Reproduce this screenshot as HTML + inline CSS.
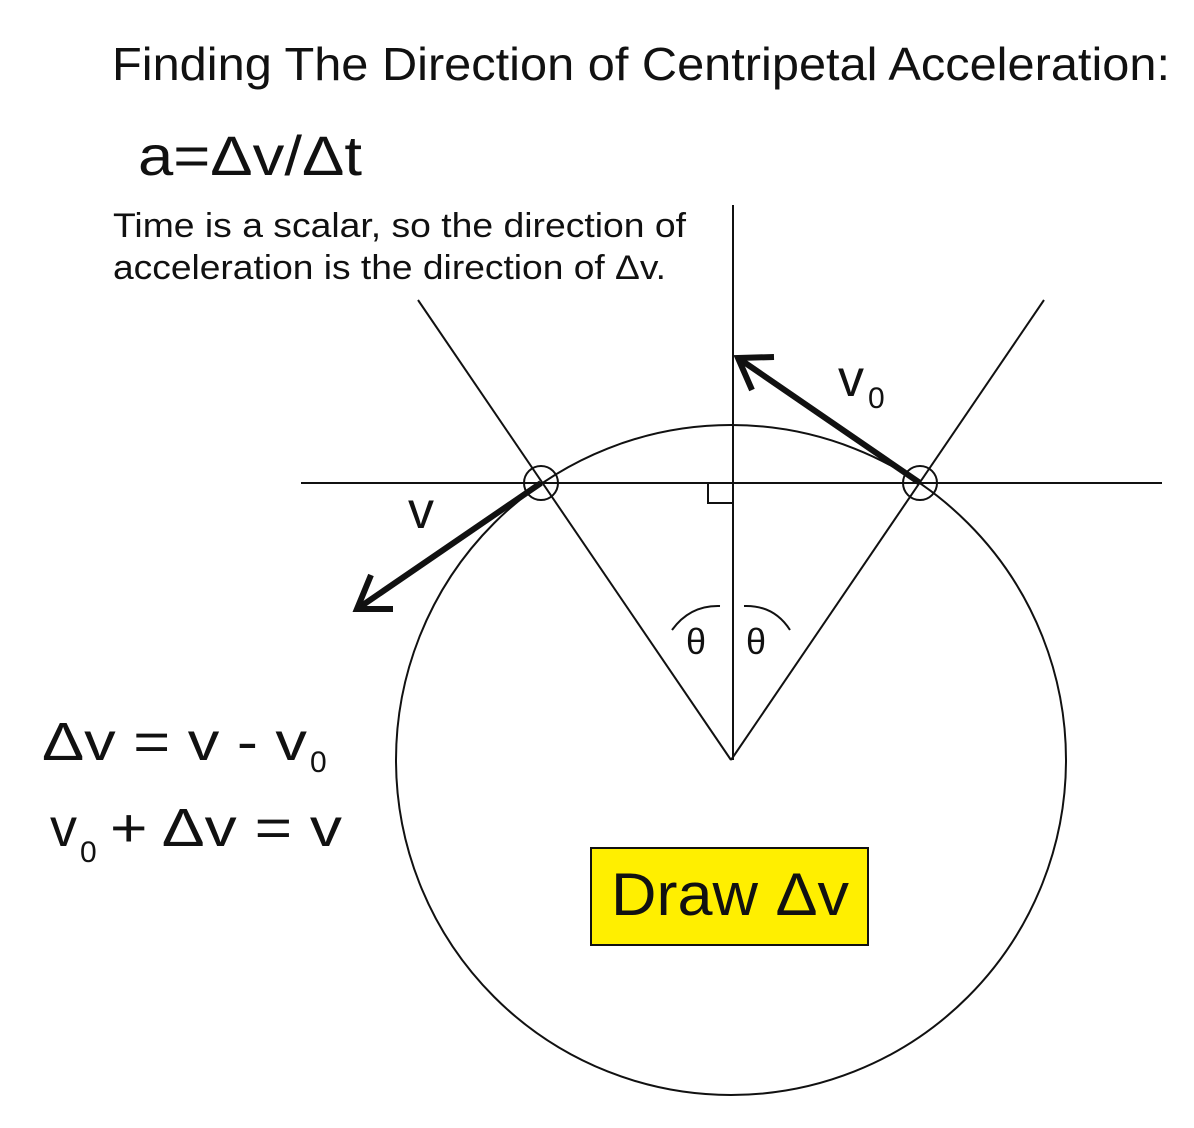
<!DOCTYPE html>
<html><head><meta charset="utf-8"><style>
html,body{margin:0;padding:0;background:#fff;}
svg{display:block;}
text{font-family:"Liberation Sans",Arial,sans-serif;fill:#111;}
</style></head><body>
<svg width="1194" height="1128" viewBox="0 0 1194 1128" xmlns="http://www.w3.org/2000/svg">
<text x="112" y="80" font-size="46" textLength="1058" lengthAdjust="spacingAndGlyphs">Finding The Direction of Centripetal Acceleration:</text>
<text x="138" y="175" font-size="56" textLength="224" lengthAdjust="spacingAndGlyphs">a=Δv/Δt</text>
<text x="113" y="237" font-size="34" textLength="573" lengthAdjust="spacingAndGlyphs">Time is a scalar, so the direction of</text>
<text x="113" y="279" font-size="34" textLength="553" lengthAdjust="spacingAndGlyphs">acceleration is the direction of Δv.</text>

<g stroke="#111" stroke-width="2" fill="none">
<circle cx="731" cy="760" r="335"/>
<line x1="301" y1="483" x2="1162" y2="483"/>
<line x1="733" y1="205" x2="733" y2="760"/>
<line x1="731" y1="760" x2="418" y2="300"/>
<line x1="731" y1="760" x2="1044" y2="300"/>
<circle cx="541" cy="483" r="17"/>
<circle cx="920" cy="483" r="17"/>
<polyline points="708,483 708,503 733,503"/>
<path d="M672,630 Q690,605 720,606"/>
<path d="M744,606 Q774,605 790,630"/>
</g>
<g stroke="#111" stroke-width="6" fill="none" stroke-linecap="butt">
<line x1="920" y1="483" x2="738" y2="358"/>
<polyline points="774,357 738,358 752,390"/>
<line x1="541" y1="483" x2="357" y2="609"/>
<polyline points="371,575 357,609 393,609"/>
</g>
<text x="838" y="396" font-size="52">v</text>
<text x="868" y="408" font-size="30">0</text>
<text x="408" y="528" font-size="52">v</text>
<text x="686" y="654" font-size="36">θ</text>
<text x="746" y="654" font-size="36">θ</text>

<text x="42" y="760" font-size="54" textLength="265" lengthAdjust="spacingAndGlyphs">Δv = v - v</text>
<text x="310" y="772" font-size="30">0</text>
<text x="50" y="846" font-size="54">v</text>
<text x="80" y="862" font-size="30">0</text>
<text x="110" y="846" font-size="54" textLength="232" lengthAdjust="spacingAndGlyphs">+ Δv = v</text>

<rect x="591" y="848" width="277" height="97" fill="#ffef00" stroke="#111" stroke-width="2"/>
<text x="611" y="915" font-size="60" textLength="238" lengthAdjust="spacingAndGlyphs">Draw Δv</text>
</svg>
</body></html>
